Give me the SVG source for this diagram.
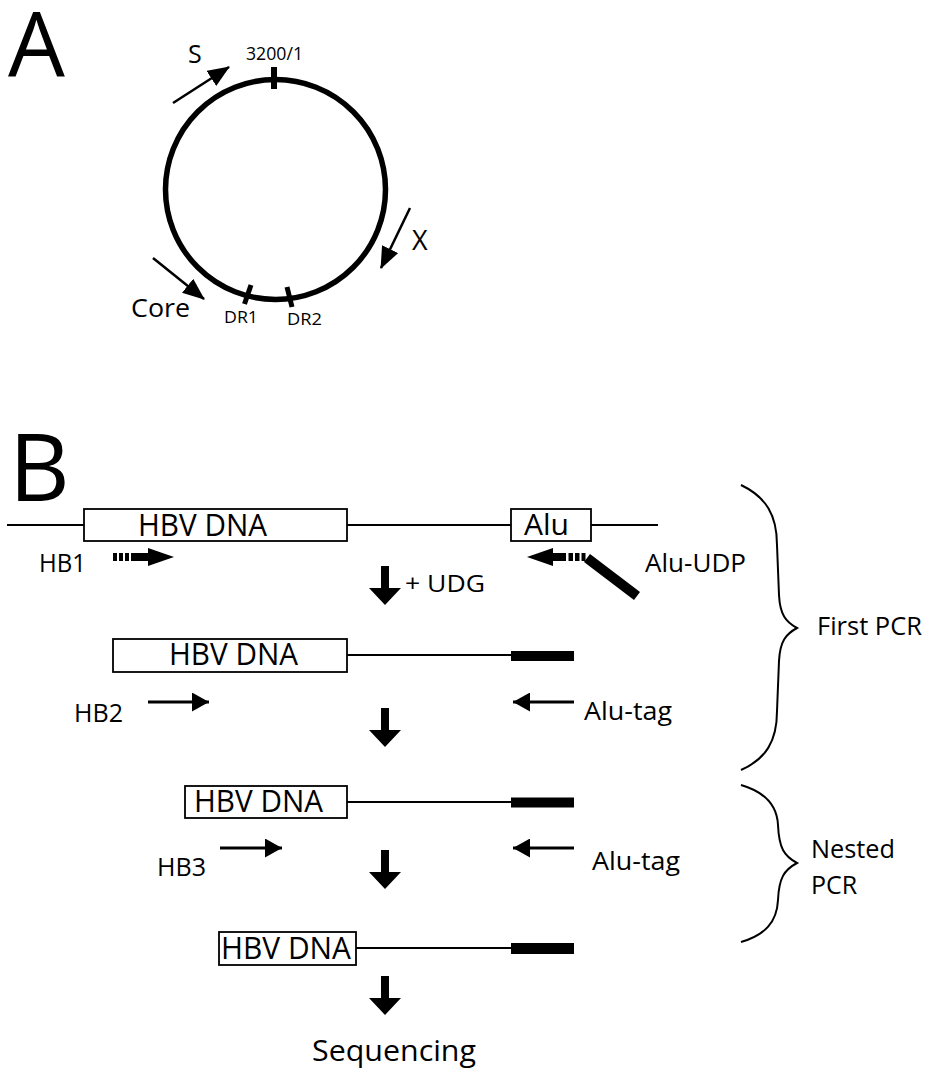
<svg xmlns="http://www.w3.org/2000/svg" width="929" height="1070" viewBox="0 0 929 1070">
<style>
text { font-family: "Open Sans", "Liberation Sans", sans-serif; fill: #000; }
.thin { stroke: #000; stroke-width: 1.8; fill: none; }
.box { stroke: #000; stroke-width: 1.8; fill: #fff; }
.prim { stroke: #000; stroke-width: 3; fill: none; }
.garr { stroke: #000; stroke-width: 2.5; fill: none; }
.bar { fill: #000; }
.brace { stroke: #000; stroke-width: 2; fill: none; }
</style>
<defs>
<marker id="headA" markerUnits="userSpaceOnUse" markerWidth="22" markerHeight="18" refX="21" refY="9" orient="auto">
<path d="M0,0 L22,9 L0,18 z" fill="#000"/>
</marker>
<marker id="headP" markerUnits="userSpaceOnUse" markerWidth="17" markerHeight="19" refX="17" refY="9.5" orient="auto">
<path d="M0,0 L17,9.5 L0,19 z" fill="#000"/>
</marker>
<path id="down" d="M-4,0 L4,0 L4,22 L16,22 L0,39 L-16,22 L-4,22 z" fill="#000"/>
</defs>

<g id="panelA">
<text id="labelA" x="8" y="76" font-size="90">A</text>
<g id="genome">
<circle cx="275.5" cy="189.5" r="110" fill="none" stroke="#000" stroke-width="5.5"/>
<line x1="274" y1="67" x2="274" y2="89" stroke="#000" stroke-width="6"/>
<line x1="251" y1="285" x2="244.5" y2="304" stroke="#000" stroke-width="5"/>
<line x1="287" y1="287" x2="292" y2="307" stroke="#000" stroke-width="5"/>
</g>
<text id="pos" x="246" y="60" font-size="17.5" textLength="57" lengthAdjust="spacingAndGlyphs">3200/1</text>
<text id="dr1" x="224" y="323" font-size="17" textLength="34" lengthAdjust="spacingAndGlyphs">DR1</text>
<text id="dr2" x="287" y="325" font-size="17" textLength="35" lengthAdjust="spacingAndGlyphs">DR2</text>
<g id="geneS">
<text x="188" y="63" font-size="25">S</text>
</g>
<g id="geneX">
<text x="412" y="250" font-size="27">X</text>
</g>
<g id="geneCore">
<text x="131" y="317" font-size="25" textLength="59" lengthAdjust="spacingAndGlyphs">Core</text>
</g>
</g>

<g id="connectors">
<line class="garr" x1="173" y1="103" x2="229" y2="67" marker-end="url(#headA)"/>
<line class="garr" x1="410" y1="208" x2="381" y2="268" marker-end="url(#headA)"/>
<line class="garr" x1="153" y1="258" x2="204" y2="299" marker-end="url(#headA)"/>

<use href="#down" x="385" y="566"/>
<use href="#down" x="385" y="708"/>
<use href="#down" x="385" y="850"/>
<use href="#down" x="385" y="976"/>

<line class="prim" x1="148" y1="702" x2="209" y2="702" marker-end="url(#headP)"/>
<line class="prim" x1="574" y1="702" x2="513" y2="702" marker-end="url(#headP)"/>
<line class="prim" x1="220" y1="848" x2="282" y2="848" marker-end="url(#headP)"/>
<line class="prim" x1="574" y1="848" x2="513" y2="848" marker-end="url(#headP)"/>
</g>

<g id="panelB">
<text id="labelB" x="9" y="501" font-size="94">B</text>

<g id="row1">
<line class="thin" x1="7" y1="525" x2="658" y2="525"/>
<rect class="box" x="84" y="509" width="263" height="32"/>
<text x="138" y="536" font-size="31" textLength="129" lengthAdjust="spacingAndGlyphs">HBV DNA</text>
<rect class="box" x="511" y="509" width="80" height="32"/>
<text x="524" y="535" font-size="30" textLength="45" lengthAdjust="spacingAndGlyphs">Alu</text>
</g>

<g id="HB1">
<text x="39" y="572" font-size="26" textLength="47" lengthAdjust="spacingAndGlyphs">HB1</text>
<rect class="bar" x="113" y="553" width="4" height="8"/>
<rect class="bar" x="119" y="553" width="4" height="8"/>
<rect class="bar" x="125" y="553" width="4" height="8"/>
<rect class="bar" x="131" y="553" width="18" height="8"/>
<path d="M148,548 L174,557 L148,566 z" fill="#000"/>
</g>

<g id="AluUDP">
<path d="M527,557 L553,548 L553,566 z" fill="#000"/>
<rect class="bar" x="552" y="553" width="14" height="8"/>
<rect class="bar" x="568.5" y="553" width="4.5" height="8"/>
<rect class="bar" x="575" y="553" width="4.5" height="8"/>
<rect class="bar" x="581.5" y="553" width="4" height="8"/>
<line x1="587" y1="558" x2="637" y2="596" stroke="#000" stroke-width="10"/>
<text x="645" y="572" font-size="26" textLength="101" lengthAdjust="spacingAndGlyphs">Alu-UDP</text>
</g>

<text id="udg" x="405" y="592" font-size="24" textLength="80" lengthAdjust="spacingAndGlyphs">+ UDG</text>

<g id="row2">
<line class="thin" x1="347" y1="655" x2="512" y2="655"/>
<rect class="box" x="113" y="639" width="234" height="33"/>
<text x="169" y="665" font-size="31" textLength="129" lengthAdjust="spacingAndGlyphs">HBV DNA</text>
<rect class="bar" x="511" y="651" width="63" height="10"/>
</g>
<text id="HB2" x="74" y="722" font-size="26" textLength="49" lengthAdjust="spacingAndGlyphs">HB2</text>
<text id="alutag1" x="584" y="720" font-size="26" textLength="88" lengthAdjust="spacingAndGlyphs">Alu-tag</text>

<g id="row3">
<line class="thin" x1="347" y1="802" x2="512" y2="802"/>
<rect class="box" x="185" y="786" width="162" height="32"/>
<text x="194" y="812" font-size="31" textLength="129" lengthAdjust="spacingAndGlyphs">HBV DNA</text>
<rect class="bar" x="511" y="797.5" width="63" height="10"/>
</g>
<text id="HB3" x="157" y="876" font-size="26" textLength="49" lengthAdjust="spacingAndGlyphs">HB3</text>
<text id="alutag2" x="592" y="870" font-size="26" textLength="88" lengthAdjust="spacingAndGlyphs">Alu-tag</text>

<g id="row4">
<line class="thin" x1="356" y1="948" x2="512" y2="948"/>
<rect class="box" x="219" y="932" width="137" height="33"/>
<text x="221" y="959" font-size="31" textLength="130" lengthAdjust="spacingAndGlyphs">HBV DNA</text>
<rect class="bar" x="511" y="943" width="63" height="11"/>
</g>

<text id="seq" x="312" y="1061" font-size="30" textLength="164" lengthAdjust="spacingAndGlyphs">Sequencing</text>

<g id="firstPCR">
<path class="brace" d="M741,485 C766,497 777,515 777,545 L779,595 C780,615 786,622 797,628 C786,634 780,641 779,661 L777,711 C777,741 766,759 741,770"/>
<text x="817" y="635" font-size="25" textLength="105" lengthAdjust="spacingAndGlyphs">First PCR</text>
</g>
<g id="nestedPCR">
<path class="brace" d="M741,785 C765,792 777,805 778,825 C779,848 784,856 797,863 C784,870 779,878 778,900 C777,922 765,935 741,942"/>
<text x="811" y="858" font-size="25" textLength="84" lengthAdjust="spacingAndGlyphs">Nested</text>
<text x="811" y="894" font-size="25">PCR</text>
</g>
</g>
</svg>
